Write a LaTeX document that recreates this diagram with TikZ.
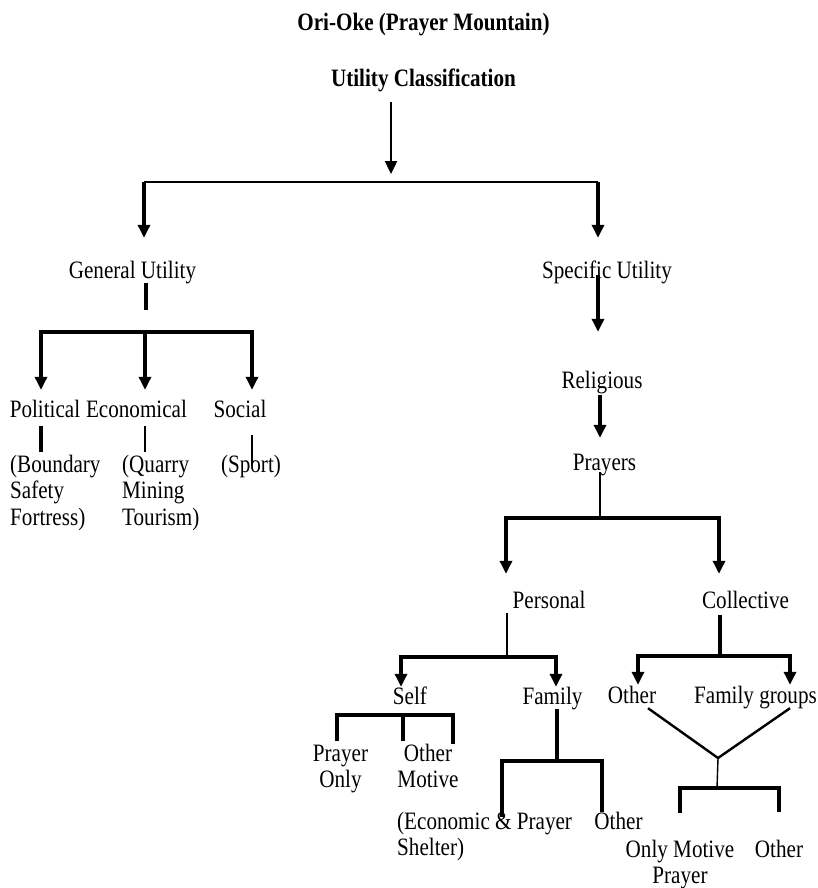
\documentclass[tikz,border=0pt]{standalone}
\usepackage{fontspec}
\setmainfont[FakeStretch=0.845]{Liberation Serif}
\usepackage{tikz}
\usetikzlibrary{arrows.meta}

\begin{document}
\begin{tikzpicture}[x=1pt,y=-1pt,>={Triangle[width=12pt,length=13pt]},
             lbl/.style={draw=none,inner sep=0pt,anchor=base,font=\fontsize{25}{26.5}\selectfont,text height=17pt,text depth=5pt},
             hd/.style={lbl,font=\fontsize{25}{26.5}\selectfont\bfseries},
             blk/.style={draw=none,inner sep=0pt,anchor=base,font=\fontsize{25}{26.5}\selectfont},
             thk/.style={line width=3.2pt},
             mid/.style={line width=2.4pt},
             thn/.style={line width=1.4pt}]
             \useasboundingbox (0,0) rectangle (818,888);

             \node[hd] (title) at (423.5,31) {Ori-Oke (Prayer Mountain)};
             \node[hd] (ucls) at (423.5,87) {Utility Classification};

             \node[lbl] (genu) at (132.5,278) {General Utility};
             \node[lbl] (spec) at (607,278) {Specific Utility};

             \node[lbl] (polt) at (45,417) {Political};
             \node[lbl] (econ) at (136.5,417) {Economical};
             \node[lbl] (socl) at (240,417) {Social};
             \node[blk,align=left,anchor=base west] (bnd) at (10,525) {(Boundary\\Safety\\Fortress)};
             \node[blk,align=left,anchor=base west] (qry) at (122,525) {(Quarry\\Mining\\Tourism)};
             \node[lbl] (sprt) at (251,472) {(Sport)};

             \node[lbl] (relg) at (602,388) {Religious};
             \node[lbl] (pray) at (604.5,470) {Prayers};
             \node[lbl] (pers) at (549,608) {Personal};
             \node[lbl] (coll) at (745.5,608) {Collective};
             \node[lbl] (self) at (410,704) {Self};
             \node[lbl] (fam) at (552.5,704) {Family};
             \node[lbl] (oth) at (632,703) {Other};
             \node[lbl] (famg) at (755.5,703) {Family groups};
             \node[blk,align=center] (pon) at (340.5,787.5) {Prayer\\Only};
             \node[blk,align=center] (omot) at (428,787.5) {Other\\Motive};
             \node[blk,align=left,anchor=base west] (ecsh) at (397,855.5) {(Economic \& Prayer\\Shelter)};
             \node[lbl] (foth) at (618.5,829) {Other};
             \node[blk,align=center] (onmp) at (680,883.5) {Only Motive\\Prayer};
             \node[lbl] (coth) at (779,857) {Other};

             \coordinate (top) at (391,182);
             \coordinate (gl) at (144,182);
             \coordinate (gr) at (598,182);
             \coordinate (gj) at (146,310);
             \coordinate (pl) at (41,332);
             \coordinate (pm) at (145,332);
             \coordinate (pr) at (252,332);
             \coordinate (prj) at (600,518);
             \coordinate (prl) at (506,518);
             \coordinate (prr) at (719,518);
             \coordinate (pej) at (507,657);
             \coordinate (pel) at (401,657);
             \coordinate (per) at (556,657);
             \coordinate (coj) at (720,656);
             \coordinate (col) at (638,656);
             \coordinate (cor) at (790,656);
             \coordinate (sl) at (337,715);
             \coordinate (sm) at (403,715);
             \coordinate (sr) at (453,715);
             \coordinate (fj) at (557,761);
             \coordinate (fl) at (502,761);
             \coordinate (fr) at (602,761);
             \coordinate (vj) at (718,758);
             \coordinate (vb) at (717,788);
             \coordinate (bl) at (680,788);
             \coordinate (br) at (779,788);

             \draw[mid,->,shorten <=10pt,shorten >=8pt] (ucls.south -| top) -- (top);
             \draw[mid] (gl) -- (gr);
             \draw[thk,->,shorten >=23pt] (gl) -- (gl |- genu.north);
             \draw[thk,->,shorten >=23pt] (gr) -- (gr |- spec.north);

             \draw[thk] (genu.south -| gj) -- (gj);
             \draw[thk,<->,shorten <=10pt,shorten >=10pt] (pl |- polt.north) -- (pl) -- (pr) -- (pr |- socl.north);
             \draw[thk,->,shorten >=10pt] (pm) -- (pm |- econ.north);
             \draw[thk,shorten <=4pt,shorten >=2pt] (polt.south -| pl) -- (pl |- bnd.north);
             \draw[thn,shorten <=4pt,shorten >=2pt] (econ.south -| pm) -- (pm |- qry.north);
             \draw[thn,shorten <=13pt,shorten >=-10pt] (socl.south -| pr) -- (pr |- sprt.north);

             \draw[thk,->,shorten <=-8pt,shorten >=39pt] (spec.south -| gr) -- (gr |- relg.north);
             \draw[thk,->,shorten <=2pt,shorten >=15pt] (relg.south -| prj) -- (prj |- pray.north);
             \draw[thn,shorten <=-3pt] (pray.south -| prj) -- (prj);
             \draw[thk,<->,shorten <=17pt,shorten >=17pt] (prl |- pers.north) -- (prl) -- (prr) -- (prr |- coll.north);

             \draw[thn] (pers.south -| pej) -- (pej);
             \draw[thk,<->] (pel |- self.north) -- (pel) -- (per) -- (per |- fam.north);
             \draw[thk,shorten <=2pt] (coll.south -| coj) -- (coj);
             \draw[thk,<->,shorten <=1pt,shorten >=1pt] (col |- oth.north) -- (col) -- (cor) -- (cor |- famg.north);

             \draw[thk,shorten <=3.5pt,shorten >=-1pt] (sl |- pon.north) -- (sl) -- (sr) -- (sr |- omot.north);
             \draw[thk,shorten >=2pt] (sm) -- (sm |- omot.north);
             \draw[thk] (fam.south -| fj) -- (fj);
             \draw[thk,shorten <=-5.3pt] (fl |- ecsh.north) -- (fl) -- (fr) -- (fr |- foth.north);

             \draw[mid] ([xshift=16pt]oth.south) -- (vj) -- ([xshift=34.5pt]famg.south);
             \draw[thn] (vj) -- (vb);
             \draw[thk,shorten <=26pt,shorten >=28pt] (bl |- onmp.north) -- (bl) -- (br) -- (br |- coth.north);
\end{tikzpicture}
\end{document}
